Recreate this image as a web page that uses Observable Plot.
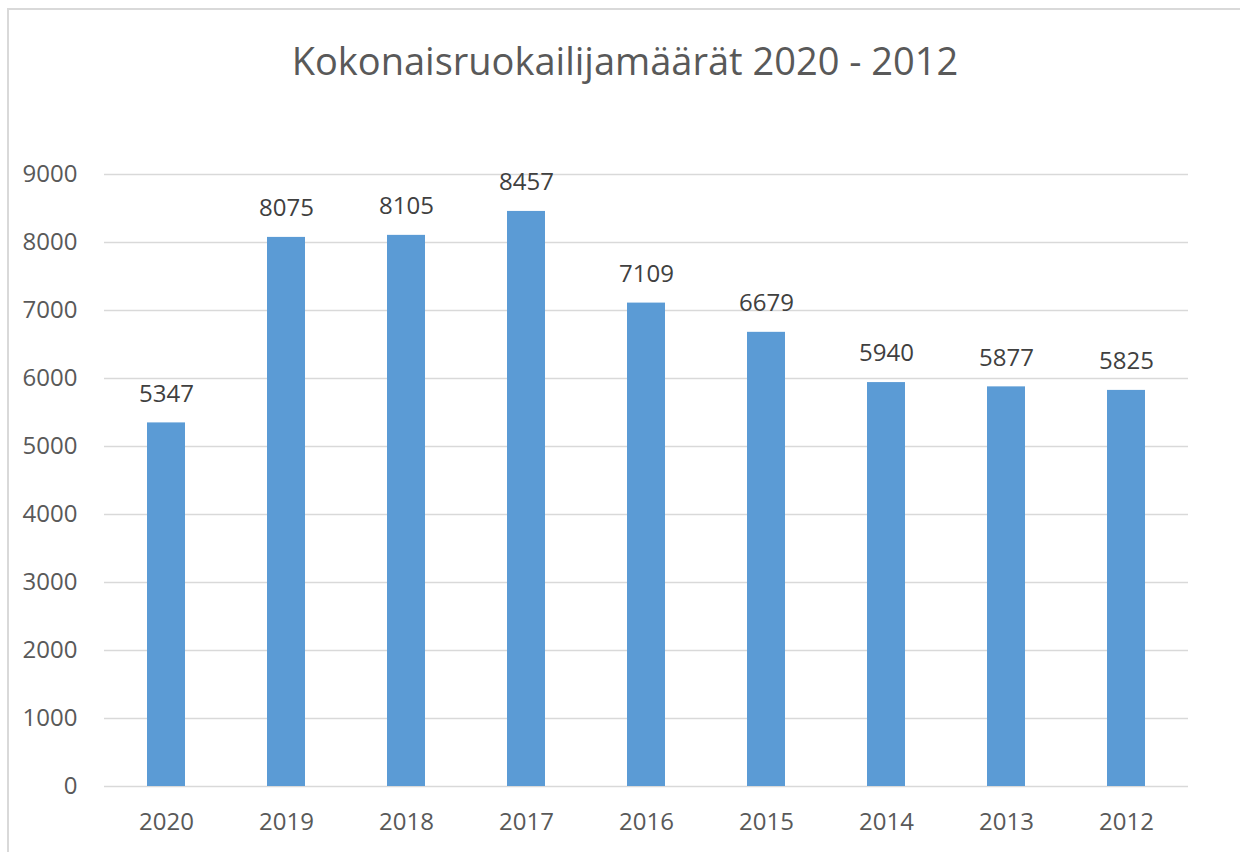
<!DOCTYPE html>
<html>
<head>
<meta charset="utf-8">
<script src="https://cdn.jsdelivr.net/npm/d3@7"></script>
<script src="https://cdn.jsdelivr.net/npm/@observablehq/plot@0.6"></script>
<style>
  html, body { margin: 0; padding: 0; background: #fff; }
  #wrap { position: relative; width: 1240px; height: 852px; overflow: hidden; font-family: "Open Sans", sans-serif; }
  #frame { position: absolute; left: 7px; top: 8px; width: 1300px; height: 900px; border-top: 2px solid #d9d9d9; border-left: 2px solid #d9d9d9; box-sizing: border-box; }
  #title { position: absolute; left: 0; top: 34px; width: 1250px; text-align: center; font-size: 38px; color: #595959; white-space: nowrap; }
  #chart { position: absolute; left: 0; top: 120px; }
</style>
</head>
<body>
<div id="wrap">
  <div id="frame"></div>
  <div id="title">Kokonaisruokailijamäärät 2020 - 2012</div>
  <div id="chart"></div>
</div>
<script>
const years = ["2020", "2019", "2018", "2017", "2016", "2015", "2014", "2013", "2012"];
const values = [5347, 8075, 8105, 8457, 7109, 6679, 5940, 5877, 5825];
const yTicks = [0, 1000, 2000, 3000, 4000, 5000, 6000, 7000, 8000, 9000];

const data = years.map((y, i) => ({year: y, value: values[i]}));

const chart = Plot.plot({
  width: 1240,
  height: 732,
  marginTop: 54,
  marginBottom: 66,
  marginLeft: 104,
  marginRight: 52,
  style: {fontFamily: "'Open Sans', sans-serif", fontSize: "24px", color: "#595959", background: "transparent"},
  x: {domain: years, paddingInner: 0.684, paddingOuter: 0.342, label: null},
  y: {domain: [0, 9000], label: null},
  marks: [
    Plot.ruleY(yTicks, {stroke: "#d9d9d9", strokeWidth: 1.6}),
    Plot.barY(data, {x: "year", y: "value", fill: "#5b9bd5"}),
    Plot.text(data, {x: "year", y: "value", text: d => String(d.value), dy: -29, fill: "#404040", fontSize: 24}),
    Plot.axisY(yTicks, {tickSize: 0, tickPadding: 27, tickFormat: d => String(d), fill: "#595959", fontSize: 24, label: null}),
    Plot.axisX({tickSize: 0, tickPadding: 26, fill: "#595959", fontSize: 24, label: null})
  ]
});
document.getElementById("chart").appendChild(chart);
</script>
</body>
</html>
